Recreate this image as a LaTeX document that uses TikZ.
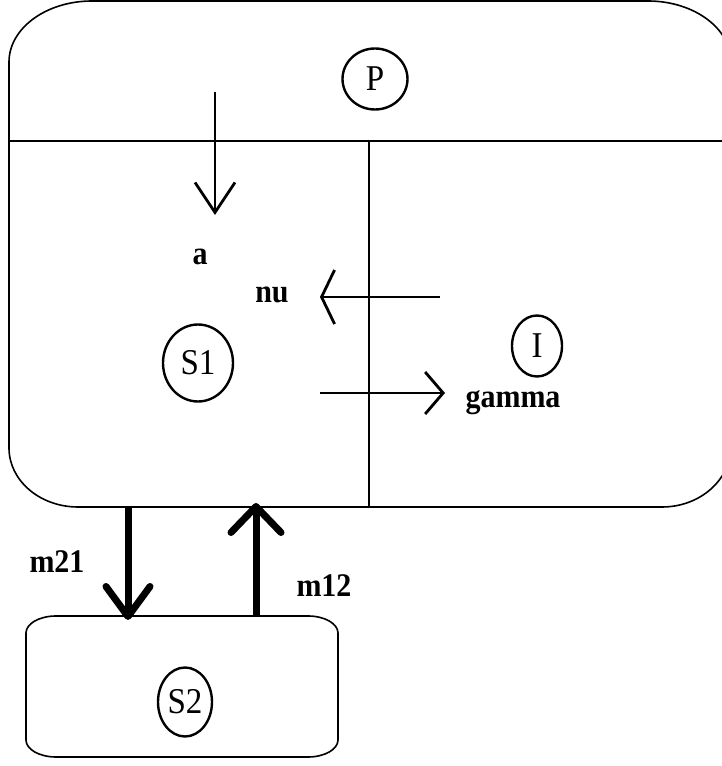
\documentclass[tikz,border=0pt]{standalone}
\usepackage{fontspec}
\usepackage{graphicx}
\setmainfont{Liberation Serif}
\usetikzlibrary{arrows.meta,shapes.geometric}

% taller-than-wide lettering
\newcommand{\tallword}[1]{\scalebox{1}[1.1]{#1}}

\tikzset{
  frame/.style={line width=1.6pt},
  state/.style={draw, ellipse, line width=2.4pt, inner sep=0pt,
    font=\fontsize{33}{37}\selectfont},
  ratelabel/.style={anchor=base, inner sep=0pt,
    font=\fontsize{30}{34}\selectfont\bfseries},
  flow/.style={line width=2.8pt},
  bigflow/.style={line width=7pt}
}

\begin{document}
\begin{tikzpicture}[x=1pt,y=1pt]
\useasboundingbox (0,0) rectangle (722,766);
\clip (0,0) rectangle (722,766);

% outer compartment with its two inner regions
\draw[frame] (92,765) -- (648,765)
  arc[start angle=90,end angle=0,x radius=83,y radius=61] -- (731,320)
  arc[start angle=0,end angle=-90,x radius=69,y radius=61] -- (78,259)
  arc[start angle=270,end angle=180,x radius=69,y radius=59] -- (9,704)
  arc[start angle=180,end angle=90,x radius=83,y radius=61] -- cycle;
\draw[frame] (9,625) -- (731,625);
\draw[frame] (369,625) -- (369,259);

% second compartment
\draw[frame] (56,150) -- (308,150)
  arc[start angle=90,end angle=0,x radius=30,y radius=17] -- (338,26)
  arc[start angle=0,end angle=-90,x radius=30,y radius=17] -- (56,9)
  arc[start angle=270,end angle=180,x radius=30,y radius=17] -- (26,133)
  arc[start angle=180,end angle=90,x radius=30,y radius=17] -- cycle;

% states
\node[state, minimum width=65pt, minimum height=61pt] (P)  at (375,687) {\tallword{P}};
\node[state, minimum width=70pt, minimum height=77pt] (S1) at (198,403) {\tallword{S1}};
\node[state, minimum width=50pt, minimum height=61pt] (I)  at (537,420) {\tallword{I}};
\node[state, minimum width=54pt, minimum height=69pt] (S2) at (185,64)  {\tallword{S2}};

% flow end points
\coordinate (aFrom) at (215,674);
\coordinate (aTo) at (215,551);
\coordinate (nuFrom) at (440,469);
\coordinate (nuTo) at (320,469);
\coordinate (gFrom) at (320,373);
\coordinate (gTo) at (445,373);
\coordinate (mDownFrom) at (128,259);
\coordinate (mDownTo) at (128,146);
\coordinate (mUpFrom) at (256,149);
\coordinate (mUpTo) at (256,263);

% flows
\draw[flow, -{Straight Barb[length=30pt,width=40pt]}] (aFrom) -- (aTo);
\draw[flow, -{Straight Barb[length=13pt,width=54pt]}] (nuFrom) -- (nuTo);
\draw[flow, -{Straight Barb[length=18pt,width=42pt]}] (gFrom) -- (gTo);
\draw[bigflow, -{Straight Barb[length=30pt,width=44pt,round]}] (mDownFrom) -- (mDownTo);
\draw[bigflow, -{Straight Barb[length=26pt,width=50pt,round]}] (mUpFrom) -- (mUpTo);

% rate labels
\node[ratelabel] (la)  at (200,501) {\tallword{a}};
\node[ratelabel] (lnu) at (272,463) {\tallword{nu}};
\node[ratelabel] (lg)  at (513,358) {\tallword{gamma}};
\node[ratelabel] (lm21) at (57,193) {\tallword{m21}};
\node[ratelabel] (lm12) at (324,169) {\tallword{m12}};
\end{tikzpicture}
\end{document}
